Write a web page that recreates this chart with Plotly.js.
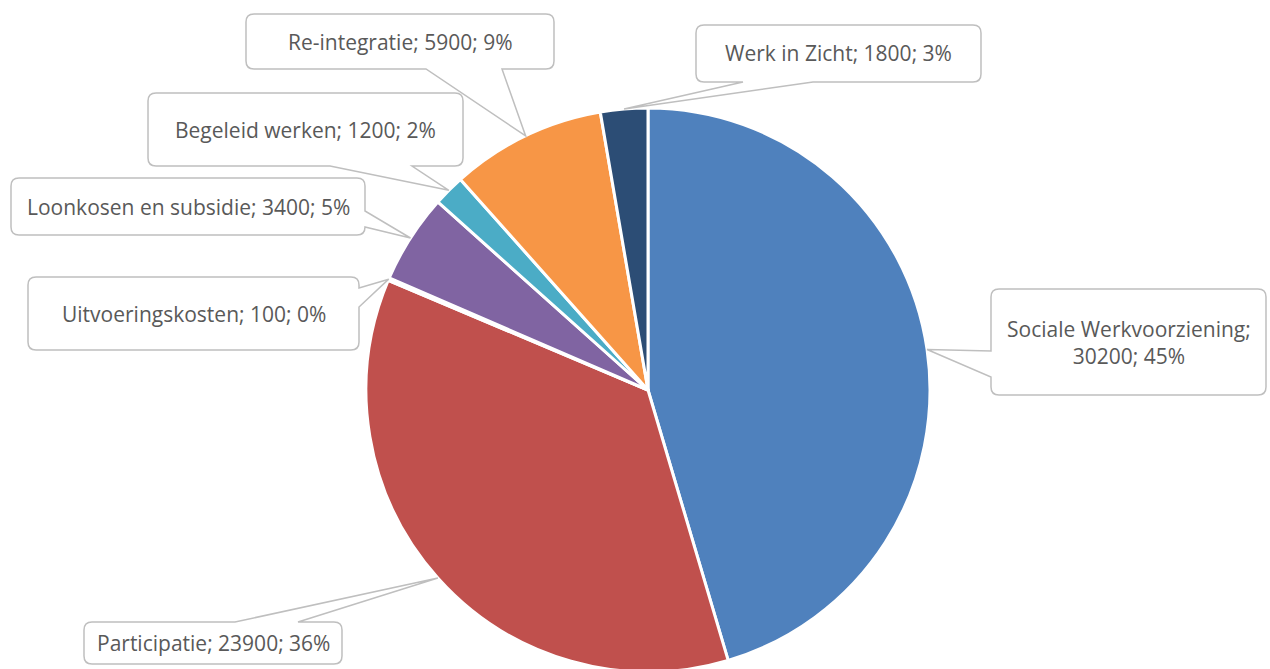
<!DOCTYPE html>
<html>
<head>
<meta charset="utf-8">
<script src="https://cdn.plot.ly/plotly-3.0.1.min.js"></script>
<style>
  html, body { margin: 0; padding: 0; background: #fff; overflow: hidden; }
  #chart { width: 1270px; height: 680px; }
</style>
</head>
<body>
<div id="chart"></div>
<script>
// ---- Data ----
const categories = ["Sociale Werkvoorziening", "Participatie", "Uitvoeringskosten",
  "Loonkosen en subsidie", "Begeleid werken", "Re-integratie", "Werk in Zicht"];
const values = [30200, 23900, 100, 3400, 1200, 5900, 1800];
const colors = ["#4F81BD", "#C0504D", "#9BBB59", "#8064A2", "#4BACC6", "#F79646", "#2C4D75"];

// ---- Layout geometry (pixels) ----
const W = 1270, H = 680;
const CX = 648, CY = 390, R = 282;
const FONT_SIZE = 21;
// callout boxes: x0,y0,x1,y1, wedge side and base range, line break after first part
const boxes = [
  {x0: 991, y0: 289, x1: 1266, y1: 395, side: "left", a: 351, b: 377, br: true},
  {x0: 84, y0: 622, x1: 342, y1: 664, side: "top", a: 235, b: 298},
  {x0: 28, y0: 277, x1: 359, y1: 350, side: "right", a: 288, b: 307},
  {x0: 11, y0: 178, x1: 365, y1: 235, side: "right", a: 211, b: 227},
  {x0: 148, y0: 93, x1: 463, y1: 166, side: "bottom", a: 330, b: 412},
  {x0: 246, y0: 14, x1: 554, y1: 69, side: "bottom", a: 426, b: 502},
  {x0: 696, y0: 25, x1: 981, y1: 82, side: "bottom", a: 743, b: 813}
];

const total = values.reduce((s, v) => s + v, 0);
const px = x => x / W;
const py = y => 1 - y / H;
const P = (x, y) => px(x).toFixed(5) + "," + py(y).toFixed(5);

function calloutPath(b, tip) {
  const r = 8;
  const {x0, y0, x1, y1} = b;
  let d = "M" + P(x0 + r, y0);
  if (b.side === "top") d += " L" + P(b.a, y0) + " L" + P(tip[0], tip[1]) + " L" + P(b.b, y0);
  d += " L" + P(x1 - r, y0) + " Q" + P(x1, y0) + " " + P(x1, y0 + r);
  if (b.side === "right") d += " L" + P(x1, b.a) + " L" + P(tip[0], tip[1]) + " L" + P(x1, b.b);
  d += " L" + P(x1, y1 - r) + " Q" + P(x1, y1) + " " + P(x1 - r, y1);
  if (b.side === "bottom") d += " L" + P(b.b, y1) + " L" + P(tip[0], tip[1]) + " L" + P(b.a, y1);
  d += " L" + P(x0 + r, y1) + " Q" + P(x0, y1) + " " + P(x0, y1 - r);
  if (b.side === "left") d += " L" + P(x0, b.b) + " L" + P(tip[0], tip[1]) + " L" + P(x0, b.a);
  d += " L" + P(x0, y0 + r) + " Q" + P(x0, y0) + " " + P(x0 + r, y0) + " Z";
  return d;
}

const shapes = [];
const annotations = [];
let cum = 0;
values.forEach((v, i) => {
  const mid = (cum + v / 2) / total * 2 * Math.PI;
  cum += v;
  const tip = [CX + R * Math.sin(mid), CY - R * Math.cos(mid)];
  const b = boxes[i];
  shapes.push({
    type: "path", xref: "paper", yref: "paper", layer: "above",
    path: calloutPath(b, tip),
    fillcolor: "#ffffff", line: {color: "#bfbfbf", width: 1.5}
  });
  const pct = Math.round(v / total * 100) + "%";
  const text = categories[i] + ";" + (b.br ? "<br>" : " ") + v + "; " + pct;
  annotations.push({
    xref: "paper", yref: "paper",
    x: px((b.x0 + b.x1) / 2), y: py((b.y0 + b.y1) / 2),
    xanchor: "center", yanchor: "middle", showarrow: false,
    text: text, align: "center", borderpad: 0,
    font: {family: "Open Sans, sans-serif", size: FONT_SIZE, color: "#595959"}
  });
});

const trace = {
  type: "pie",
  labels: categories,
  values: values,
  sort: false,
  direction: "clockwise",
  rotation: 0,
  textinfo: "none",
  hoverinfo: "label+value+percent",
  marker: {colors: colors, line: {color: "#ffffff", width: 3}},
  domain: {x: [(CX - R) / W, (CX + R) / W], y: [py(CY + R), py(CY - R)]},
  showlegend: false
};

Plotly.newPlot("chart", [trace], {
  width: W, height: H,
  margin: {l: 0, r: 0, t: 0, b: 0},
  paper_bgcolor: "#ffffff",
  showlegend: false,
  shapes: shapes,
  annotations: annotations
}, {displayModeBar: false, staticPlot: true});
</script>
</body>
</html>
